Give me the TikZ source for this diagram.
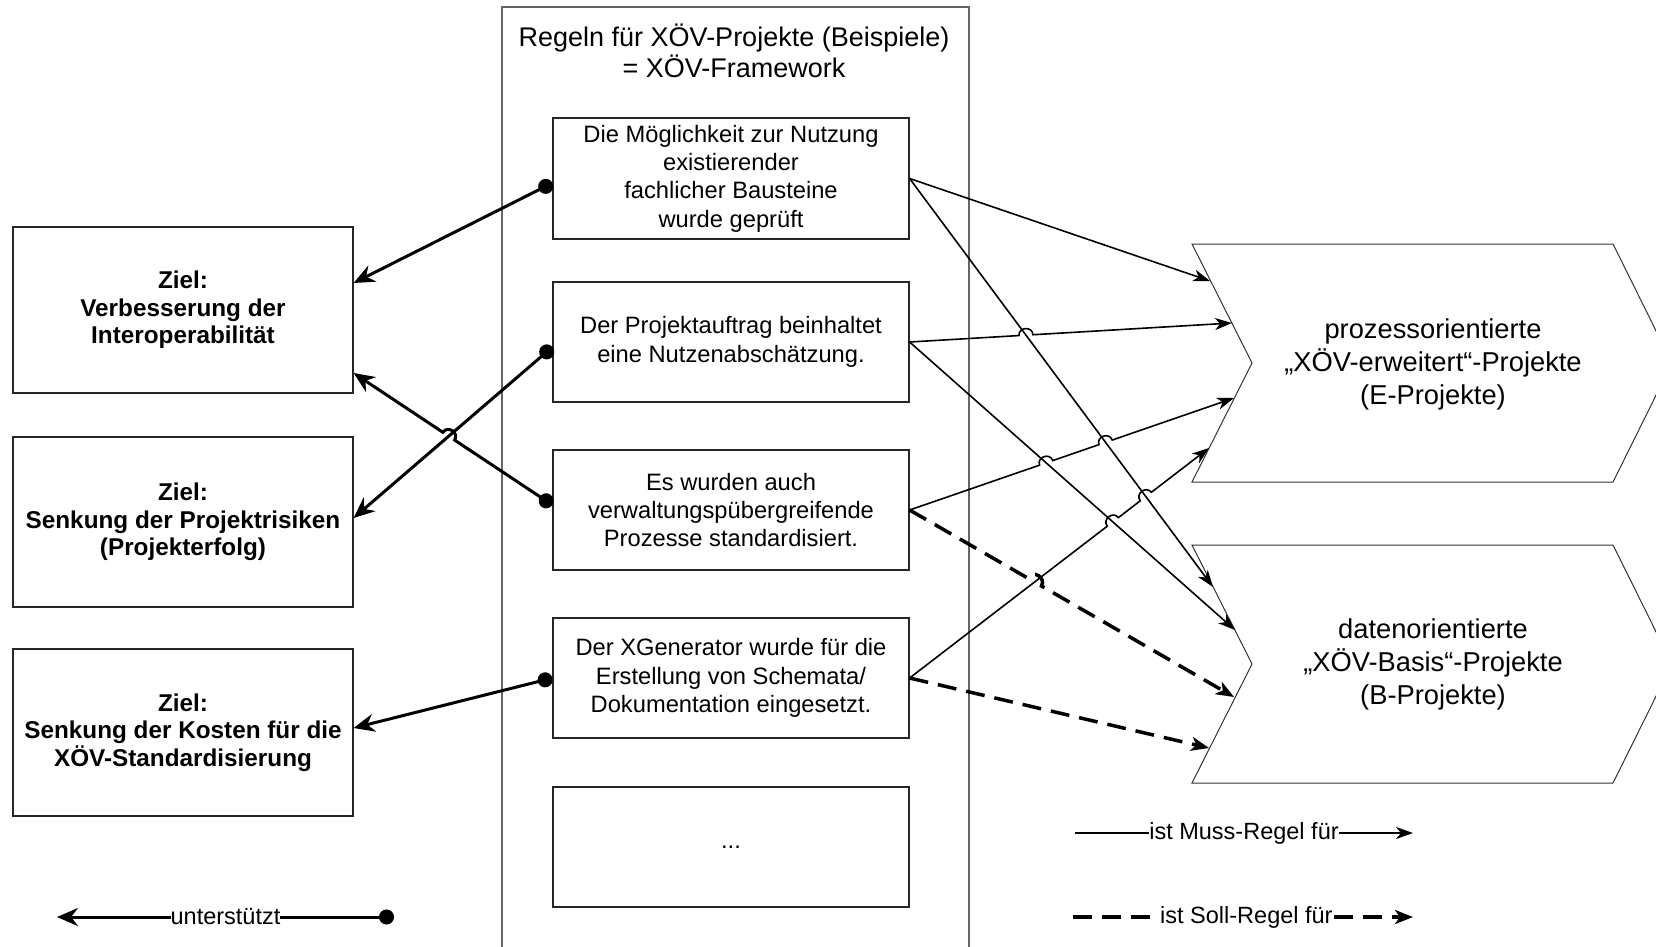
\documentclass[tikz,border=0pt]{standalone}
\usepackage{fontspec}
\setmainfont{Liberation Sans}
\usetikzlibrary{arrows.meta,calc,intersections}
\begin{document}
\begin{tikzpicture}[x=1pt,y=-1pt,
  box/.style={draw=black!85, line width=1.2pt, align=center, inner sep=0pt},
  rulebox/.style={box, minimum width=356pt, minimum height=120pt, font=\fontsize{23.7}{28.3}\selectfont},
  goalbox/.style={box, minimum width=340pt, font=\fontsize{24.3}{27.5}\selectfont\bfseries},
  chev/.style={draw=black!80, line width=1pt},
  chevtext/.style={align=center, font=\fontsize{27.3}{33}\selectfont},
  muss/.style={line width=1.6pt, -{Stealth[length=17pt,width=12pt,inset=5pt]}},
  soll/.style={line width=3.5pt, dash pattern=on 19pt off 10pt, -{Stealth[length=18pt,width=14pt,inset=5pt]}},
  sup/.style={line width=3pt, {Circle[length=15pt]}-{Stealth[length=21pt,width=18pt,inset=7pt]}},
  hop/.style={bend left=90, looseness=1.6},
  hopr/.style={bend right=90, looseness=1.6},
  legtext/.style={fill=white, inner sep=0pt, font=\fontsize{23.5}{28}\selectfont}
]
\useasboundingbox (0,0) rectangle (1656,946);
\clip (0,0) rectangle (1656,946);

% container
\draw[draw=black!60, line width=1.3pt] (502,7) rectangle (969,970);
\node[align=center, font=\fontsize{27}{31}\selectfont] (title) at (734,51)
  {Regeln für XÖV-Projekte (Beispiele)\\= XÖV-Framework};

% rule boxes
\node[rulebox, minimum height=121pt] (r1) at (731,178.5)
  {Die Möglichkeit zur Nutzung\\existierender\\fachlicher Bausteine\\wurde geprüft};
\node[rulebox] (r2) at (731,342) {Der Projektauftrag beinhaltet\\eine Nutzenabschätzung.};
\node[rulebox] (r3) at (731,510) {Es wurden auch\\verwaltungspübergreifende\\Prozesse standardisiert.};
\node[rulebox] (r4) at (731,678) {Der XGenerator wurde für die\\Erstellung von Schemata/\\Dokumentation eingesetzt.};
\node[rulebox] (r5) at (731,847) {...};

% goal boxes
\node[goalbox, minimum height=166pt] (g1) at (183,310) {Ziel:\\Verbesserung der\\Interoperabilität};
\node[goalbox, minimum height=170pt] (g2) at (183,522) {Ziel:\\Senkung der Projektrisiken\\(Projekterfolg)};
\node[goalbox, minimum height=167pt] (g3) at (183,732.5) {Ziel:\\Senkung der Kosten für die\\XÖV-Standardisierung};

% chevrons
\draw[chev] (1192,244) -- (1613,244) -- (1672,363) -- (1613,482) -- (1192,482) -- (1252,363) -- cycle;
\node[chevtext] (pE) at (1433,364) {prozessorientierte\\„XÖV-erweitert“-Projekte\\(E-Projekte)};
\draw[chev] (1192,545) -- (1613,545) -- (1672,664) -- (1613,783) -- (1192,783) -- (1252,664) -- cycle;
\node[chevtext] (pB) at (1433,664) {datenorientierte\\„XÖV-Basis“-Projekte\\(B-Projekte)};

% connector end points on chevron edges
\coordinate (cE1) at (1210,281);
\coordinate (cE3) at (1232,323);
\coordinate (cE5) at (1234,398);
\coordinate (cE6) at (1209,448);
\coordinate (cB2) at (1213,587);
\coordinate (cB4) at (1235,630);
\coordinate (cB7) at (1234,697);
\coordinate (cB8) at (1209,748);

% support connector ends
\coordinate (s1) at ([yshift=-4.5pt]r1.west);
\coordinate (s2) at ([yshift=-5pt]r2.west);
\coordinate (s3) at ([yshift=5pt]r3.west);
\coordinate (s4) at (r4.west);
\coordinate (t1) at ([yshift=27pt]g1.east);
\coordinate (t3) at ([yshift=-63pt]g1.east);
\coordinate (t2) at ([yshift=4pt]g2.east);
\coordinate (t4) at ([yshift=4.5pt]g3.east);

% paths for crossings
\path[name path=pM2] (r1.east) -- (cB2);
\path[name path=pM4] (r2.east) -- (cB4);
\path[name path=pM6] (r4.east) -- (cE6);
\path[name path=pM3] (r2.east) -- (cE3);
\path[name path=pM5] (r3.east) -- (cE5);
\path[name path=pD1] (r3.east) -- (cB7);
\path[name path=pA2] (s2) -- (t2);
\path[name path=pA3] (s3) -- (t3);
\path[name intersections={of=pM3 and pM2, by=h1}];
\path[name intersections={of=pM5 and pM4, by=h2}];
\path[name intersections={of=pM5 and pM2, by=h3}];
\path[name intersections={of=pM6 and pM4, by=h4}];
\path[name intersections={of=pM6 and pM2, by=h5}];
\path[name intersections={of=pD1 and pM6, by=h6}];
\path[name intersections={of=pA3 and pA2, by=h7}];

% support connectors
\draw[sup] (s1) -- (t1);
\draw[sup] (s2) -- (t2);
\draw[sup] (s3) -- ($(h7)!7pt!(s3)$) to[hopr] ($(h7)!7pt!(t3)$) -- (t3);
\draw[sup] (s4) -- (t4);

% Muss connectors
\draw[muss] (r1.east) -- (cE1);
\draw[muss] (r1.east) -- (cB2);
\draw[muss] (r2.east) -- ($(h1)!7pt!(r2.east)$) to[hop] ($(h1)!7pt!(cE3)$) -- (cE3);
\draw[muss] (r2.east) -- (cB4);
\draw[muss] (r3.east) -- ($(h2)!7pt!(r3.east)$) to[hop] ($(h2)!7pt!(cE5)$)
   -- ($(h3)!7pt!(r3.east)$) to[hop] ($(h3)!7pt!(cE5)$) -- (cE5);
\draw[muss] (r4.east) -- ($(h4)!7pt!(r4.east)$) to[hop] ($(h4)!7pt!(cE6)$)
   -- ($(h5)!7pt!(r4.east)$) to[hop] ($(h5)!7pt!(cE6)$) -- (cE6);

% Soll connectors
\draw[soll] (r3.east) -- ($(h6)!8pt!(r3.east)$) to[hop] ($(h6)!8pt!(cB7)$) -- (cB7);
\draw[soll] (r4.east) -- (cB8);

% legends
\coordinate (lu1) at (57,917);
\coordinate (lu2) at (394,917);
\draw[sup] (lu2) -- (lu1) node[legtext, pos=0.5] (lut) {unterstützt};
\coordinate (lm1) at (1075,833);
\coordinate (lm2) at (1413,833);
\draw[muss] (lm1) -- (lm2) node[legtext, pos=0.5] (lmt) {ist Muss-Regel für};
\coordinate (ls1) at (1073,917);
\coordinate (ls2) at (1413,917);
\draw[soll] (ls1) -- (ls2) node[legtext, pos=0.51] (lst) {ist Soll-Regel für};
\end{tikzpicture}
\end{document}
